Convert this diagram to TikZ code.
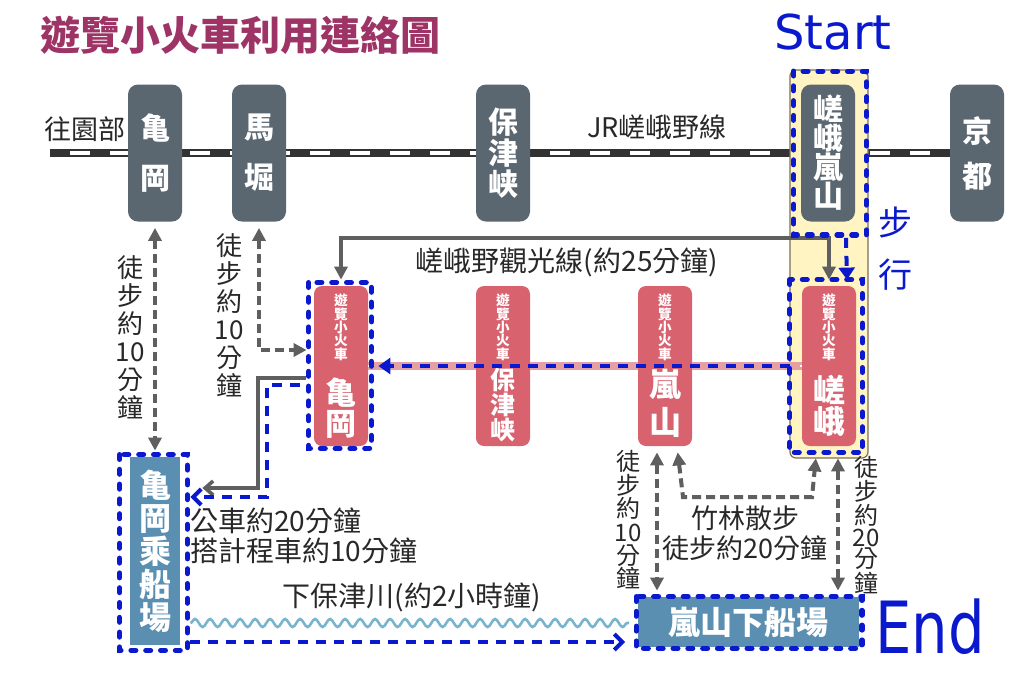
\documentclass[tikz,border=0pt]{standalone}
\usepackage{fontspec}
\setmainfont{Noto Sans CJK TC}
\newfontfamily\handfont{DejaVu Sans}
\usetikzlibrary{arrows.meta,decorations.pathmorphing,positioning}

\definecolor{titlered}{RGB}{158,52,102}
\definecolor{jrgray}{RGB}{90,102,112}
\definecolor{railgray}{RGB}{50,50,50}
\definecolor{trolleyred}{RGB}{217,98,111}
\definecolor{pinkrail}{RGB}{229,160,164}
\definecolor{boatblue}{RGB}{91,143,178}
\definecolor{routeblue}{RGB}{10,25,205}
\definecolor{arrgray}{RGB}{95,95,95}
\definecolor{hiyellow}{RGB}{255,244,194}
\definecolor{hiborder}{RGB}{120,110,90}
\definecolor{txtgray}{RGB}{40,40,40}
\definecolor{riverblue}{RGB}{120,180,205}

\tikzset{
  jrstn/.style={fill=jrgray, rounded corners=5pt, minimum width=27pt, minimum height=68.5pt,
    inner sep=0pt, text=white, align=center, font=\bfseries\fontsize{15}{#1}\selectfont},
  jrstn/.default=16,
  trolley/.style={fill=trolleyred, rounded corners=4pt, minimum width=27pt, minimum height=80pt, inner sep=0pt},
  trsmall/.style={text=white, align=center, inner sep=0pt, font=\bfseries\fontsize{6.8}{6.7}\selectfont},
  trbig/.style 2 args={text=white, align=center, inner sep=0pt, font=\bfseries\fontsize{#1}{#2}\selectfont},
  boat/.style={fill=boatblue, inner sep=0pt, text=white, align=center},
  lbl/.style={text=txtgray, inner sep=0pt, font=\fontsize{13.5}{15}\selectfont},
  vlbl/.style 2 args={text=txtgray, inner sep=0pt, align=center, font=\fontsize{#1}{#2}\selectfont},
  jrrail/.style={draw=railgray, line width=4pt,
    postaction={draw=white, line width=2pt, dash pattern=on 10pt off 10pt, dash phase=10pt}},
  trrail/.style={draw=pinkrail, line width=4pt,
    postaction={draw=white, line width=1pt, dash pattern=on 3pt off 6pt}},
  walk/.style={draw=arrgray, line width=2pt, dash pattern=on 4.5pt off 2.5pt,
    {Triangle[length=6.5pt,width=6.5pt]}-{Triangle[length=6.5pt,width=6.5pt]}},
  tourline/.style={draw=arrgray, line width=1.8pt, shorten <=3pt, shorten >=3pt,
    {Triangle[length=6.5pt,width=6.5pt]}-{Triangle[length=6.5pt,width=6.5pt]}},
  busgray/.style={draw=arrgray, line width=1.8pt, -{Straight Barb[length=4pt,width=7pt]}},
  route/.style={draw=routeblue, line width=2pt, dash pattern=on 5pt off 4pt},
  routetri/.style={route, -{Triangle[length=6pt,width=8pt]}},
  routebarb/.style={route, -{Straight Barb[length=4pt,width=8pt]}},
  bluedot/.style={draw=routeblue, line width=2.6pt, dash pattern=on 2.4pt off 5pt, line cap=round},
  hibox/.style={fill=hiyellow, draw=hiborder, line width=0.6pt, rounded corners=3pt},
  river/.style={draw=riverblue, line width=1.3pt, decorate,
    decoration={snake, segment length=7.5pt, amplitude=2pt}},
  hand/.style={text=routeblue, inner sep=0pt}
}

\begin{document}
\begin{tikzpicture}[x=0.5pt,y=-0.5pt]
    \path[fill=white, use as bounding box] (0,0) rectangle (1024,676);

    % title
    \node[anchor=west, inner sep=0pt, text=titlered, font=\bfseries\fontsize{20}{20}\selectfont]
      (title) at (40,35) {遊覽小火車利用連絡圖};

    % JR line
    \coordinate (railW) at (50,153);
    \coordinate (railE) at (950,153);
    \draw[jrrail] (railW) -- (railE);

    % JR stations
    \node[jrstn=25] (jkame) at (155,153) {亀\\岡};
    \node[jrstn=25] (jumab) at (259,153) {馬\\堀};
    \node[jrstn=15.5] (jhozu) at (503,153) {保\\津\\峡};
    \node[jrstn=22.5] (jkyoto) at (977,153) {京\\都};

    % Saga area highlight
    \draw[hibox] (790,70) rectangle (868,458);
    \node[jrstn=14.5] (jsaga) at (828,153) {嵯\\峨\\嵐\\山};

    \node[lbl] (tsonobe) at (85,129) {往園部};
    \node[lbl] (tjrline) at (657,127) {JR嵯峨野線};

    % trolley line
    \node[trolley] (tkame) at (341,366) {};
    \node[trolley] (thozu) at (503,366) {};
    \node[trolley] (tarashi) at (665,366) {};
    \node[trolley] (tsaga) at (829,366) {};
    \draw[trrail] (tkame.east) -- (thozu.west);
    \draw[trrail] (thozu.east) -- (tarashi.west);
    \draw[trrail] (tarashi.east) -- (tsaga.west);

    \foreach \t in {tkame,thozu,tarashi,tsaga}
      \node[trsmall, below=4pt] (\t S) at (\t.north) {遊\\覽\\小\\火\\車};
    \node[trbig={15.5}{15.5}, above=4pt] (tkameB) at (tkame.south) {亀\\岡};
    \node[trbig={12.5}{12.5}, above=2pt] (thozuB) at (thozu.south) {保\\津\\峡};
    \node[trbig={16}{19}, above=4pt] (tarashiB) at (tarashi.south) {嵐\\山};
    \node[trbig={16}{15.5}, above=5pt] (tsagaB) at (tsaga.south) {嵯\\峨};

    \draw[routetri] ([xshift=-6pt]tsaga.west) -- ([xshift=5pt]tkame.east);

    % Sagano tourist line
    \coordinate (sagtop) at (600,238);
    \draw[tourline] (tkame.north) -- (tkame.north |- sagtop) -- (tsaga.north |- sagtop) -- (tsaga.north);
    \node[lbl, font=\fontsize{14}{15}\selectfont] (tsagano) at (567,262) {嵯峨野觀光線(約25分鐘)};

    % boats
    \node[boat, minimum width=25pt, minimum height=94pt, font=\bfseries\fontsize{16}{16.5}\selectfont]
      (kfune) at (155,551) {亀\\岡\\乘\\船\\場};
    \node[boat, minimum width=110.5pt, minimum height=25pt, font=\bfseries\fontsize{16}{16}\selectfont]
      (afune) at (748,622) {嵐山下船場};

    % walking paths
    \draw[walk, shorten <=3pt, shorten >=3pt] (jkame.south) -- (kfune.north);
    \node[vlbl={13}{14}] (wkame) at (130,337) {徒\\步\\約\\10\\分\\鐘};

    \draw[walk, shorten <=3pt, shorten >=3.5pt] (jumab.south) |- ([yshift=8pt]tkame.west);
    \node[vlbl={13}{14}] (wumab) at (229,315) {徒\\步\\約\\10\\分\\鐘};

    \draw[walk, shorten <=3pt, shorten >=3pt] ([xshift=-4pt]tarashi.south) -- ([xshift=-4pt]tarashi.south |- afune.north);
    \node[vlbl={12}{11.7}] (warashi) at (628,520) {徒\\步\\約\\10\\分\\鐘};

    \draw[walk, shorten <=6pt, shorten >=3pt] ([xshift=4.5pt]tsaga.south) -- ([xshift=4.5pt]tsaga.south |- afune.north);
    \node[vlbl={12}{10.8}] (wsaga) at (866,525) {徒\\步\\約\\20\\分\\鐘};

    \coordinate (bamL) at (683,497);
    \coordinate (bamR) at (812,497);
    \draw[walk, shorten <=3pt, shorten >=6pt] ([xshift=6pt]tarashi.south) -- (bamL) -- (bamR) -- ([xshift=-6pt]tsaga.south);
    \node[lbl, align=center] (tbamboo) at (745,533) {竹林散步\\徒步約20分鐘};

    % bus / taxi
    \coordinate (busG) at (258,488);
    \coordinate (busB) at (267,497);
    \draw[busgray, shorten <=4pt, shorten >=11pt] ([yshift=-6pt]tkame.west) -| (busG) -- (busG -| kfune.east);
    \draw[routebarb, shorten <=7pt, shorten >=5pt] ([yshift=-9.5pt]tkame.west) -| (busB) -- (busB -| kfune.east);
    \node[lbl, anchor=west, align=left, font=\fontsize{14}{15}\selectfont] (tbus) at (190,536) {公車約20分鐘\\搭計程車約10分鐘};

    % Hozu river
    \draw[river] ([xshift=5pt,yshift=-36pt]kfune.east) -- ([xshift=-4pt,yshift=-0.5pt]afune.west);
    \node[lbl, font=\fontsize{14}{15}\selectfont] (triver) at (412,597) {下保津川(約2小時鐘)};
    \draw[routebarb, shorten <=5pt, shorten >=6pt] ([yshift=-45.5pt]kfune.east) -- ([yshift=-10pt]afune.west);

    % Saga walk to trolley
    \draw[routetri] ([xshift=9pt,yshift=-8pt]jsaga.south) -- ([xshift=9pt,yshift=3pt]tsaga.north);

    % route marks
    \draw[bluedot] ([shift={(-7,-13)}]jsaga.north west) rectangle ([shift={(11,13)}]jsaga.south east);
    \draw[bluedot] ([shift={(-12,-6)}]tsaga.north west) rectangle ([shift={(6,6)}]tsaga.south east);
    \draw[bluedot] ([shift={(-5,-3)}]tkame.north west) rectangle ([shift={(3,2)}]tkame.south east);
    \draw[bluedot] ([shift={(-10,-2)}]kfune.north west) rectangle ([shift={(7,5)}]kfune.south east);
    \draw[bluedot] ([shift={(-1,0)}]afune.north west) rectangle ([shift={(3,1)}]afune.south east);

    % handwritten notes
    \node[hand, font=\handfont\fontsize{24}{24}\selectfont] (tstart) at (833,32) {Start};
    \node[hand, font=\fontsize{17}{26}\selectfont, align=center] (twalk) at (895,249) {步\\行};
    \node[hand, font=\handfont\fontsize{36}{36}\selectfont, xscale=0.8] (tend) at (930,627) {End};
\end{tikzpicture}
\end{document}
